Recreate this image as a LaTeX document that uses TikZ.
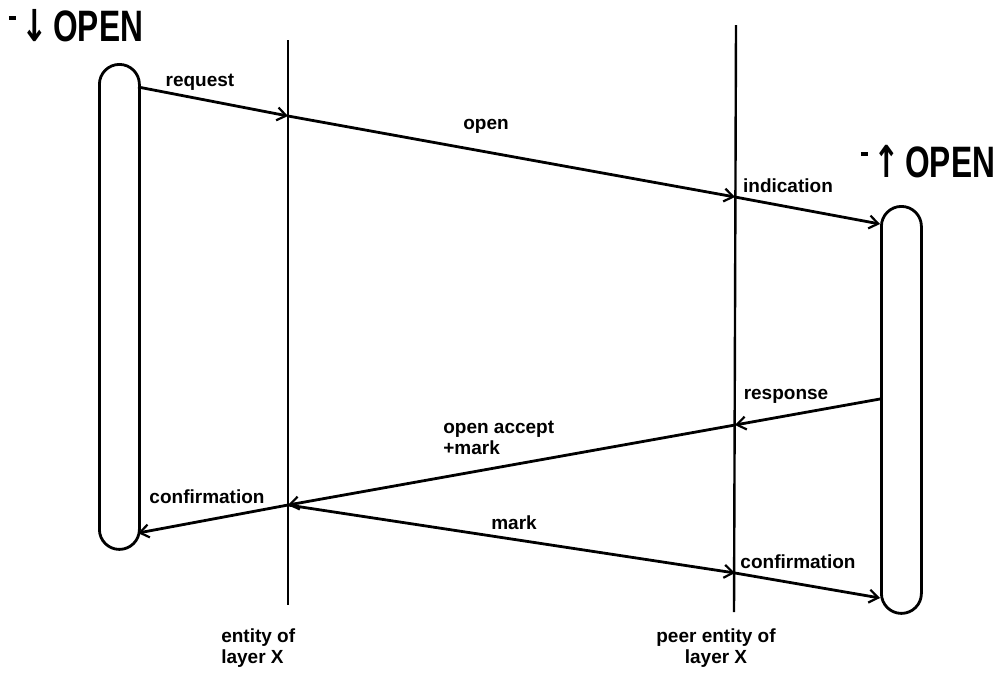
\documentclass[tikz,border=0pt]{standalone}
\usepackage{fontspec}
\setmainfont{Liberation Sans}
\newfontfamily\arrfont{DejaVu Sans}
\usetikzlibrary{arrows.meta}
\begin{document}
\begin{tikzpicture}[x=1pt,y=-1pt,
  line width=2.6pt,
  pill/.style={draw,rounded corners=20pt,minimum width=40pt,inner sep=0pt,line width=2.8pt},
  life/.style={line width=2.4pt},
  msg/.style={line width=2.8pt,-{Straight Barb[length=9pt,width=13pt,line width=2.2pt]}},
  lbl/.style={font=\fontsize{19}{21}\bfseries\selectfont,inner sep=1pt},
  big/.style={font=\fontsize{44}{46}\bfseries\selectfont,inner sep=0pt,xscale=0.72}]
\useasboundingbox (0,0) rectangle (1000,689);
% pills
\node[pill,minimum height=485pt,anchor=north west] (pL) at (98,63) {};
\node[pill,minimum height=407pt,anchor=north west] (pR) at (880,205) {};
% lifelines
\coordinate (l1t) at (288,40);
\coordinate (l1b) at (288,605);
\coordinate (l2t) at (736,25);
\coordinate (l2b) at (734,612);
\draw[life] (l1t) -- (l1b);
\draw[life] (l2t) -- (l2b);
% crossing points
\coordinate (s1) at (138,87);
\coordinate (c1) at (288,116);
\coordinate (c2) at (735,197);
\coordinate (e1) at (880,224);
\coordinate (s2) at (880,399);
\coordinate (c3) at (735,425);
\coordinate (c4) at (288,505);
\coordinate (e2) at (138,533);
\coordinate (c5) at (735,573);
\coordinate (e3) at (880,598);
\draw[msg] (s1) -- (c1);
\draw[msg] (c1) -- (c2);
\draw[msg] (c2) -- (e1);
\draw[msg] (s2) -- (c3);
\draw[msg] (c3) -- (c4);
\draw[msg] (c4) -- (e2);
\draw[msg] (c4) -- (c5);
\draw[msg] (c5) -- (e3);
% labels
\node[lbl] (t1) at (200,82) {request};
\node[lbl] (t2) at (486,126) {open};
\node[lbl] (t3) at (788,186) {indication};
\node[lbl] (t4) at (786,396) {response};
\node[lbl,align=left,anchor=north west] (t5) at (441,419) {open accept\\+mark};
\node[lbl] (t6) at (207,497) {confirmation};
\node[lbl] (t7) at (514,523) {mark};
\node[lbl] (t8) at (798,562) {confirmation};
\node[lbl,align=left,anchor=north west] (t9) at (219,626) {entity of\\layer X};
\node[lbl,align=center,anchor=north] (t10) at (716,626) {peer entity of\\layer X};
\node[big,anchor=west] (o1) at (8,26) {\raisebox{22pt}{\rule{10pt}{3.5pt}}\,\arrfont\bfseries↓\,\rmfamily\bfseries OPEN};
\node[big,anchor=west] (o2) at (860,162) {\raisebox{22pt}{\rule{10pt}{3.5pt}}\,\arrfont\bfseries↑\,\rmfamily\bfseries OPEN};
\end{tikzpicture}
\end{document}
